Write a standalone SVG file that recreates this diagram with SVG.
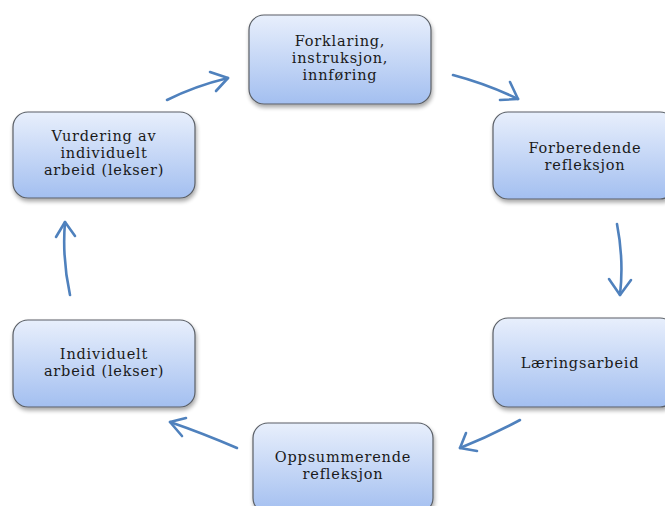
<svg xmlns="http://www.w3.org/2000/svg" width="665" height="506" viewBox="0 0 665 506">
<style>
.box{fill:url(#g);stroke:#5a5f66;stroke-width:1.2;filter:url(#sh)}
.t{font-family:"DejaVu Serif","Liberation Serif",serif;font-size:14.5px;letter-spacing:0.8px;fill:#1a1a1a;text-anchor:middle}
.c{fill:none;stroke:#4f81bd;stroke-width:2.6;stroke-linecap:round;stroke-linejoin:round}
</style>
<defs>
<linearGradient id="g" x1="0" y1="0" x2="0" y2="1">
<stop offset="0" stop-color="#e8effc"/>
<stop offset="1" stop-color="#a3bff0"/>
</linearGradient>
<filter id="sh" x="-10%" y="-10%" width="125%" height="130%">
<feGaussianBlur in="SourceAlpha" stdDeviation="2"/>
<feOffset dx="1" dy="3" result="b"/>
<feComponentTransfer><feFuncA type="linear" slope="0.35"/></feComponentTransfer>
<feMerge><feMergeNode/><feMergeNode in="SourceGraphic"/></feMerge>
</filter>
</defs>
<rect width="665" height="506" fill="#ffffff"/>
<g id="connectors">
<path class="c" d="M167,100 Q195,86 228,78"/><path class="c" d="M210,72 L228,78 L216,91"/>
<path class="c" d="M453,75 Q487,84 518,99"/><path class="c" d="M510,82 L518,99 L500,100"/>
<path class="c" d="M617,224 Q624,260 620,295"/><path class="c" d="M609,279 L620,295 L631,280"/>
<path class="c" d="M520,420 Q490,436 460,448"/><path class="c" d="M466,433 L460,448 L477,451"/>
<path class="c" d="M237,448 Q202,433 170,422"/><path class="c" d="M182,436 L170,422 L186,418"/>
<path class="c" d="M70,295 Q62,258 65,222"/><path class="c" d="M56,237 L65,222 L75,236"/>
</g>
<g id="n1"><rect class="box" x="249" y="15" width="182" height="89" rx="15"/>
<text class="t" x="340" y="46">Forklaring,</text><text class="t" x="340" y="63">instruksjon,</text><text class="t" x="340" y="80">innføring</text></g>
<g id="n2"><rect class="box" x="493" y="112" width="182" height="87" rx="15"/>
<text class="t" x="585" y="153">Forberedende</text><text class="t" x="585" y="170">refleksjon</text></g>
<g id="n3"><rect class="box" x="493" y="318" width="182" height="89" rx="15"/>
<text class="t" x="580" y="368">Læringsarbeid</text></g>
<g id="n4"><rect class="box" x="253" y="423" width="180" height="90" rx="15"/>
<text class="t" x="343" y="462">Oppsummerende</text><text class="t" x="343" y="479">refleksjon</text></g>
<g id="n5"><rect class="box" x="13" y="320" width="182" height="87" rx="15"/>
<text class="t" x="104" y="359">Individuelt</text><text class="t" x="104" y="376">arbeid (lekser)</text></g>
<g id="n6"><rect class="box" x="13" y="112" width="182" height="86" rx="15"/>
<text class="t" x="104" y="141">Vurdering av</text><text class="t" x="104" y="158">individuelt</text><text class="t" x="104" y="175">arbeid (lekser)</text></g>
</svg>
